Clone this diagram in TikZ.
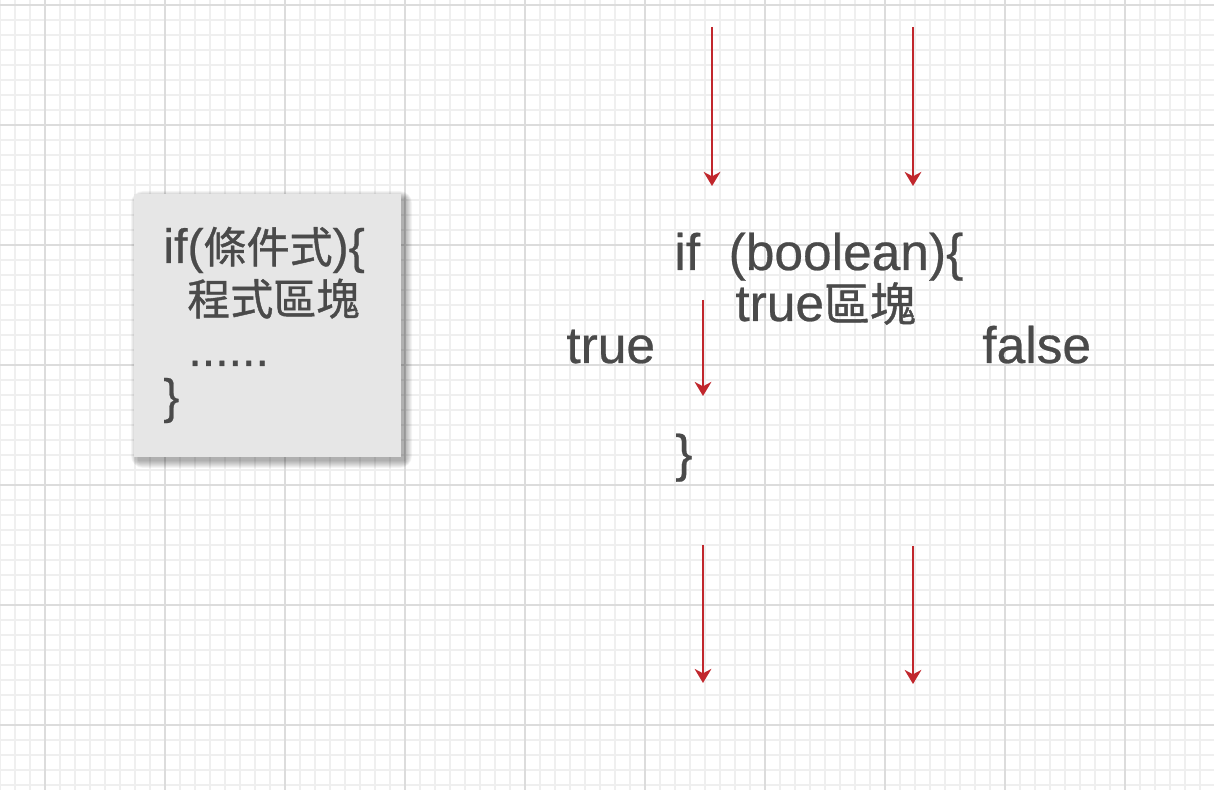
\documentclass[tikz,border=0pt]{standalone}
\usepackage{fontspec}
\setmainfont{Liberation Sans}[FakeBold=0.5]
\newfontfamily\cjk{Noto Sans CJK TC}[Scale=0.89, FakeBold=0.9]
\usetikzlibrary{arrows.meta}
\definecolor{gridmajor}{HTML}{DCDCDC}
\definecolor{gridminor}{HTML}{EFEFEF}
\definecolor{codegray}{HTML}{4A4A4A}
\definecolor{boxgray}{HTML}{E6E6E6}
\definecolor{flowred}{HTML}{C1272D}
\tikzset{
  codeline/.style={inner sep=0pt, anchor=base west, text=codegray},
  boxtext/.style={codeline, font=\fontsize{27.5}{33}\selectfont},
  bigtext/.style={codeline, font=\fontsize{29.3}{35}\selectfont},
  flow/.style={draw=flowred, line width=1.2pt, -{Stealth[length=8pt,width=9.5pt,inset=2.5pt]}},
}
\begin{document}
\begin{tikzpicture}[x=0.02cm, y=-0.02cm]

\useasboundingbox (0,0) rectangle (1214,790);
\fill[white] (0,0) rectangle (1214,790);

% grid
\foreach \x in {0,15,...,1214} \draw[gridminor, line width=0.6pt] (\x,0) -- (\x,790);
\foreach \y in {5,20,...,790} \draw[gridminor, line width=0.6pt] (0,\y) -- (1214,\y);
\foreach \x in {45,165,...,1214} \draw[gridmajor, line width=0.6pt] (\x,0) -- (\x,790);
\foreach \y in {5,125,...,790} \draw[gridmajor, line width=0.6pt] (0,\y) -- (1214,\y);

% syntax card
\foreach \r in {0,...,7}
  \fill[black, opacity=0.045, rounded corners=\r] (138-\r,198-\r) rectangle (405+\r,461+\r);
\fill[boxgray] (134,194) rectangle (401,457);

\node[boxtext] (cond) at (163,263) {if({\cjk 條件式})\{};
\node[boxtext] (block) at (187,315) {{\cjk 程式區塊}};
\node[boxtext] (dots) at (188,366) {......};
\node[boxtext] (close) at (163,413) {\}};

% flow of the if statement
\node[bigtext] (ifline) at (674,270) {if\ \ (boolean)\{};
\node[bigtext] (trueblock) at (735,321) {true{\cjk 區塊}};
\node[bigtext] (truelabel) at (566,363) {true};
\node[bigtext] (falselabel) at (982,363) {false};
\node[bigtext] (endbrace) at (675,471) {\}};

\coordinate (topL) at (712,27);   \coordinate (topLtip) at (712,186);
\coordinate (topR) at (913,27);   \coordinate (topRtip) at (913,186);
\coordinate (body) at (703,300);  \coordinate (bodytip) at (703,396);
\coordinate (outL) at (703,545);  \coordinate (outLtip) at (703,683);
\coordinate (outR) at (913,546);  \coordinate (outRtip) at (913,684);

\foreach \a in {topL,topR,body,outL,outR}
  \draw[flow] (\a) -- (\a tip);

\end{tikzpicture}
\end{document}
